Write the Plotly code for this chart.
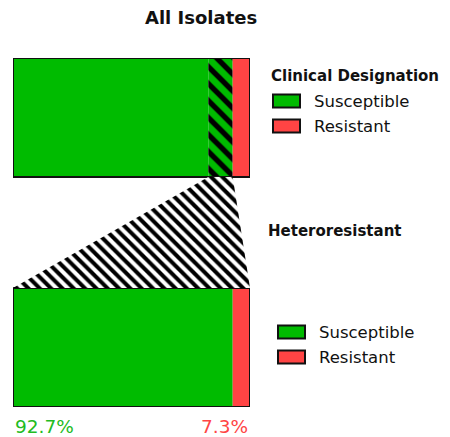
import plotly.graph_objects as go

# ---- data ----
bar_labels = ["Clinical Designation", "Heteroresistant"]
clinical_segments = ["Susceptible", "Heteroresistant", "Resistant"]
clinical_values = [82.4, 10.3, 7.3]
hetero_segments = ["Susceptible", "Resistant"]
hetero_values = [92.7, 7.3]
pct_labels = ["92.7%", "7.3%"]

GREEN = "#00bb00"
RED = "#ff4444"
FONT = "DejaVu Sans"

# geometry (layout)
W, H = 450, 437
ML, MR, MT, MB = 13, 200, 58, 30
BW = 0.517  # bar thickness in y units
y_top, y_bot = 1, 0

fig = go.Figure()

# top bar (clinical designation)
base = 0
for name, v in zip(clinical_segments, clinical_values):
    if name == "Heteroresistant":
        marker = dict(color=GREEN, line=dict(width=0),
                      pattern=dict(shape="\\", fgcolor="#000000", fgopacity=1, bgcolor=GREEN,
                                   size=12, solidity=0.45))
    else:
        marker = dict(color=GREEN if name == "Susceptible" else RED, line=dict(width=0))
    fig.add_trace(go.Bar(y=[y_top], x=[v], base=[base], orientation="h", width=BW,
                         marker=marker, name=name, showlegend=False, hoverinfo="skip"))
    base += v

# bottom bar (heteroresistant breakdown)
base = 0
for name, v in zip(hetero_segments, hetero_values):
    fig.add_trace(go.Bar(y=[y_bot], x=[v], base=[base], orientation="h", width=BW,
                         marker=dict(color=GREEN if name == "Susceptible" else RED, line=dict(width=0)),
                         name=name, showlegend=False, hoverinfo="skip"))
    base += v

# outlines
for yy, vals in [(y_top, clinical_values), (y_bot, hetero_values)]:
    fig.add_trace(go.Bar(y=[yy], x=[sum(vals)], base=[0], orientation="h", width=BW,
                         marker=dict(color="rgba(0,0,0,0)", line=dict(color="#111111", width=2)),
                         showlegend=False, hoverinfo="skip"))

# funnel from heteroresistant segment to the bottom bar
h0 = clinical_values[0]
h1 = clinical_values[0] + clinical_values[1]
tot = sum(hetero_values)
fx = [h0, h1, tot, 0, h0]
fy = [y_top - BW / 2, y_top - BW / 2, y_bot + BW / 2, y_bot + BW / 2, y_top - BW / 2]
fig.add_trace(go.Scatter(x=fx, y=fy, mode="none", fill="toself", fillcolor="white",
                         fillpattern=dict(shape="\\", fgcolor="#000000", fgopacity=1, bgcolor="white",
                                          size=8, solidity=0.5),
                         showlegend=False, hoverinfo="skip"))

pw = W - ML - MR
ph = H - MT - MB


def px(x):
    return (x - ML) / pw


def py(y):
    return (H - MB - y) / ph


shapes = []
annotations = []

# title
annotations.append(dict(text="<b>All Isolates</b>", x=px(201), y=py(17), xref="paper", yref="paper",
                        showarrow=False, xanchor="center", yanchor="middle",
                        font=dict(family=FONT, size=18, color="#111111")))


def legend(title, ty, x_sw, x_txt, tx_title, items):
    annotations.append(dict(text="<b>%s</b>" % title, x=px(tx_title), y=py(ty), xref="paper", yref="paper",
                            showarrow=False, xanchor="left", yanchor="middle",
                            font=dict(family=FONT, size=15, color="#111111")))
    for name, color, sy in items:
        shapes.append(dict(type="rect", xref="paper", yref="paper",
                           x0=px(x_sw), x1=px(x_sw + 27), y0=py(sy - 6.5), y1=py(sy + 6.5),
                           fillcolor=color, line=dict(color="#111111", width=2)))
        annotations.append(dict(text=name, x=px(x_txt), y=py(sy), xref="paper", yref="paper",
                                showarrow=False, xanchor="left", yanchor="middle",
                                font=dict(family=FONT, size=16.5, color="#111111")))


legend("Clinical Designation", 76, 273, 312, 269,
       [(clinical_segments[0], GREEN, 101), (clinical_segments[2], RED, 126)])
legend("Heteroresistant", 231, 278, 317, 266,
       [(hetero_segments[0], GREEN, 332), (hetero_segments[1], RED, 357)])

# percentage labels
annotations.append(dict(text=pct_labels[0], x=0, y=py(426), xref="x", yref="paper", showarrow=False,
                        xanchor="left", yanchor="middle", font=dict(family=FONT, size=18.5, color="#22bb22")))
annotations.append(dict(text=pct_labels[1], x=tot, y=py(426), xref="x", yref="paper", showarrow=False,
                        xanchor="right", yanchor="middle", font=dict(family=FONT, size=18.5, color="#ff4444")))

fig.update_layout(
    width=W, height=H,
    margin=dict(l=ML, r=MR, t=MT, b=MB),
    barmode="overlay",
    plot_bgcolor="white", paper_bgcolor="white",
    xaxis=dict(range=[0, 100], visible=False, fixedrange=True),
    yaxis=dict(range=[y_bot - BW / 2, y_top + BW / 2], visible=False, fixedrange=True),
    shapes=shapes, annotations=annotations,
    showlegend=False,
)

fig.write_html("out.html", config={"displayModeBar": False},
               post_script="document.body.style.margin='0';document.body.style.overflow='hidden';")
